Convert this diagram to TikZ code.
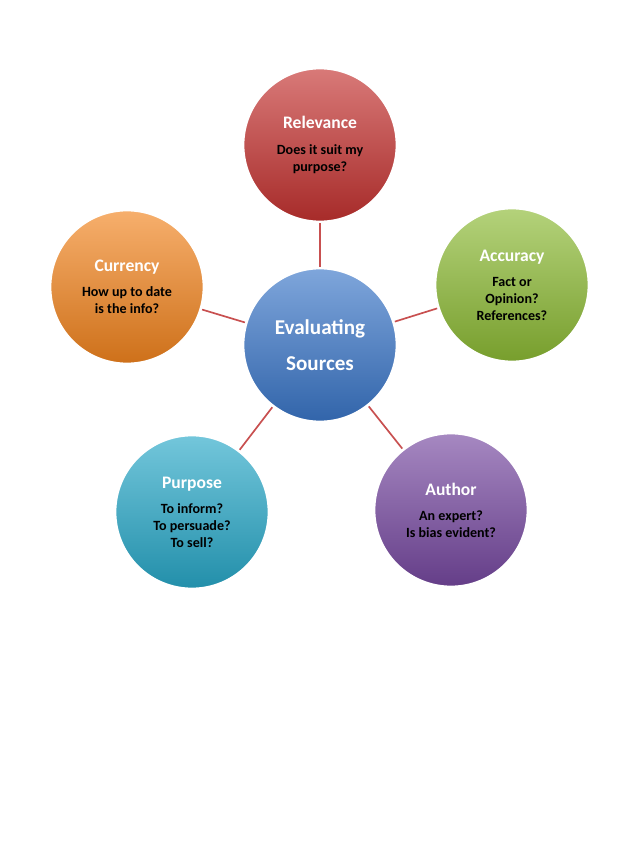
\documentclass[tikz,border=0pt]{standalone}
\usepackage{fontspec}
\setmainfont{Carlito}
\usepackage{tikz}

\definecolor{relred}{RGB}{196,50,48}
\definecolor{accgreen}{RGB}{140,186,52}
\definecolor{curorange}{RGB}{242,132,30}
\definecolor{purcyan}{RGB}{40,168,200}
\definecolor{autpurple}{RGB}{118,72,160}
\definecolor{evalblue}{RGB}{58,118,200}
\definecolor{linkred}{RGB}{200,80,80}

\begin{document}
\begin{tikzpicture}[
    x=0.025cm, y=-0.025cm,
    bubble/.style={circle, minimum size=3.85cm, draw=white, line width=2pt,
        align=center, inner sep=0pt, font=\bfseries\fontsize{10}{12}\selectfont,
        top color=#1!65!white, bottom color=#1!85!black, shading angle=0},
    link/.style={draw=linkred, line width=1.2pt}
]
    \useasboundingbox (0,0) rectangle (640,853);

    \node[bubble=relred] (relevance) at (320,145) {\textcolor{white}{\fontsize{12.5}{15}\selectfont Relevance}\\[6pt]Does it suit my\\purpose?};
    \node[bubble=accgreen] (accuracy) at (512,285) {\textcolor{white}{\fontsize{12.5}{15}\selectfont Accuracy}\\[6pt]Fact or\\Opinion?\\References?};
    \node[bubble=curorange] (currency) at (127,287) {\textcolor{white}{\fontsize{12.5}{15}\selectfont Currency}\\[6pt]How up to date\\is the info?};
    \node[bubble=purcyan] (purpose) at (192,512) {\textcolor{white}{\fontsize{12.5}{15}\selectfont Purpose}\\[6pt]To inform?\\To persuade?\\To sell?};
    \node[bubble=autpurple] (author) at (451,510) {\textcolor{white}{\fontsize{12.5}{15}\selectfont Author}\\[6pt]An expert?\\Is bias evident?};
    \node[bubble=evalblue, text=white, font=\bfseries\fontsize{15}{26}\selectfont] (eval) at (320,345) {Evaluating\\Sources};

    \foreach \n in {relevance,accuracy,currency,purpose,author}
        \draw[link] (eval) -- (\n);
\end{tikzpicture}
\end{document}
